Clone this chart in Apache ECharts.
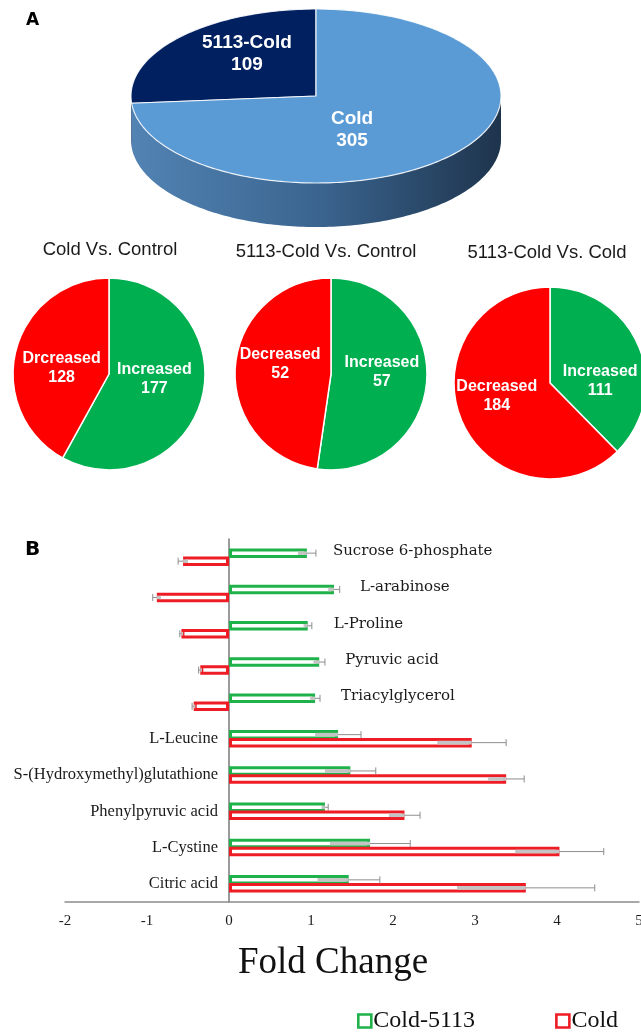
<!DOCTYPE html>
<html>
<head>
<meta charset="utf-8">
<title>Differential metabolites under cold stress</title>
<script src="https://cdn.jsdelivr.net/npm/echarts@6/dist/echarts.min.js"></script>
<style>
  html, body { margin: 0; padding: 0; background: #ffffff; }
  #chart { width: 641px; height: 1034px; }
</style>
</head>
<body>
<div id="chart"></div>
<script>
// ---- Panel A: overlap of differential metabolites ----
const overlapNames = ['5113-Cold', 'Cold'];
const overlapCounts = [109, 305];

// ---- Panel A: up / down regulated counts per comparison ----
const comparisonTitles = ['Cold Vs. Control', '5113-Cold Vs. Control', '5113-Cold Vs. Cold'];
const increasedNames = ['Increased', 'Increased', 'Increased'];
const increasedCounts = [177, 57, 111];
const decreasedNames = ['Drcreased', 'Decreased', 'Decreased'];
const decreasedCounts = [128, 52, 184];

// ---- Panel B: fold change of selected metabolites ----
const metabolites = [
  'Sucrose 6-phosphate', 'L-arabinose', 'L-Proline', 'Pyruvic acid', 'Triacylglycerol',
  'L-Leucine', 'S-(Hydroxymethyl)glutathione', 'Phenylpyruvic acid', 'L-Cystine', 'Citric acid'
];
const seriesNames = ['Cold-5113', 'Cold'];
const cold5113FC  = [0.95, 1.28, 0.96, 1.10, 1.05, 1.33, 1.48, 1.17, 1.72, 1.46];
const cold5113Err = [0.11, 0.07, 0.05, 0.07, 0.06, 0.28, 0.31, 0.04, 0.49, 0.38];
const coldFC      = [-0.56, -0.88, -0.58, -0.35, -0.43, 2.96, 3.38, 2.14, 4.03, 3.62];
const coldErr     = [0.06, 0.05, 0.02, 0.02, 0.02, 0.42, 0.22, 0.19, 0.54, 0.84];
const foldMin = -2, foldMax = 5, foldStep = 1;

// ---- colours ----
const RED = '#ff0000', GREEN = '#00b050';
const BAR_GREEN = '#1fb24b', BAR_RED = '#ee1c24';

const chart = echarts.init(document.getElementById('chart'), null, { renderer: 'canvas' });

// ---------- 3-D style overlap pie (ellipse with extruded rim) ----------
const topPie = { cx: 316, cy: 96, rx: 185, ry: 87, depth: 44 };
const topPieFill = ['#002060', '#5b9bd5'];
const topPieSide = ['#001a4d', null];
const topPieLabelNudge = [[-1, -13], [-32, 4]];

function arcPoints(a0, a1, dy) {
  const pts = [];
  const n = Math.max(2, Math.ceil(Math.abs(a1 - a0) / 0.02));
  for (let k = 0; k <= n; k++) {
    const a = a0 + (a1 - a0) * k / n;
    pts.push([topPie.cx + topPie.rx * Math.cos(a), topPie.cy + dy + topPie.ry * Math.sin(a)]);
  }
  return pts;
}

function renderTopPie(params, api) {
  const i = params.dataIndex;
  const total = overlapCounts.reduce((s, v) => s + v, 0);
  let before = 0;
  for (let j = 0; j < i; j++) before += overlapCounts[j];
  const value = api.value(0);
  // slices run counter-clockwise from 12 o'clock
  const aStart = -Math.PI / 2 - 2 * Math.PI * before / total;
  const aEnd = -Math.PI / 2 - 2 * Math.PI * (before + value) / total;
  const children = [];

  // visible front rim (screen-lower half of the ellipse)
  for (let k = -2; k <= 1; k++) {
    const lo = Math.max(aEnd, 2 * Math.PI * k);
    const hi = Math.min(aStart, 2 * Math.PI * k + Math.PI);
    if (hi > lo) {
      const upper = arcPoints(lo, hi, 0);
      const lower = arcPoints(hi, lo, topPie.depth);
      const fill = topPieSide[i] || new echarts.graphic.LinearGradient(0, 0, 1, 0, [
        { offset: 0, color: '#5283b3' },
        { offset: 0.5, color: '#3b6590' },
        { offset: 1, color: '#1e344d' }
      ]);
      children.push({
        type: 'polygon',
        shape: { points: upper.concat(lower) },
        style: { fill: fill, stroke: null }
      });
    }
  }

  // top face
  const face = [[topPie.cx, topPie.cy]].concat(arcPoints(aEnd, aStart, 0));
  children.push({
    type: 'polygon',
    shape: { points: face },
    style: { fill: topPieFill[i], stroke: 'rgba(255,255,255,0.85)', lineWidth: 1.2 }
  });

  // label at the middle of the slice
  const mid = (aStart + aEnd) / 2;
  const lx = topPie.cx + topPie.rx * 0.5 * Math.cos(mid) + topPieLabelNudge[i][0];
  const ly = topPie.cy + topPie.ry * 0.5 * Math.sin(mid) + topPieLabelNudge[i][1];
  children.push({
    type: 'text',
    x: lx, y: ly,
    style: {
      text: overlapNames[i] + '\n' + value,
      fill: '#ffffff',
      fontFamily: 'Liberation Sans',
      fontWeight: 'bold',
      fontSize: 19,
      lineHeight: 22,
      align: 'center',
      verticalAlign: 'middle'
    }
  });
  return { type: 'group', children: children };
}

// ---------- three comparison pies ----------
const smallPieCenters = [[109, 374], [331, 374], [550, 383]];
const smallPieTitleCenters = [[110, 250], [326, 252], [547, 253]];
const smallPieLabelNudge = [[[-4, -8], [2, 7]], [[0, -6], [0, -6]], [[3, 17], [-6, -6]]];

const smallPies = comparisonTitles.map((t, i) => ({
  type: 'pie',
  name: t,
  center: smallPieCenters[i],
  radius: [0, 96],
  startAngle: 90,
  clockwise: true,
  silent: true,
  animation: false,
  itemStyle: { borderColor: '#ffffff', borderWidth: 1.5 },
  label: {
    show: true,
    position: 'inside',
    formatter: '{b}\n{c}',
    color: '#ffffff',
    fontFamily: 'Liberation Sans',
    fontWeight: 'bold',
    fontSize: 16,
    lineHeight: 19
  },
  labelLine: { show: false },
  emphasis: { disabled: true },
  data: [
    { name: increasedNames[i], value: increasedCounts[i], itemStyle: { color: GREEN }, label: { offset: smallPieLabelNudge[i][0] } },
    { name: decreasedNames[i], value: decreasedCounts[i], itemStyle: { color: RED }, label: { offset: smallPieLabelNudge[i][1] } }
  ]
}));

// ---------- fold change bars ----------
const barHalf = 4; // half the spacing between the two bars of one metabolite

function makeErrorRenderer(offsetSign) {
  return function (params, api) {
    const v = api.value(0), idx = api.value(1), e = api.value(2);
    const s = v >= 0 ? 1 : -1;
    const end = api.coord([v, idx]);
    const inner = api.coord([v - s * e, idx]);
    const outer = api.coord([v + s * e, idx]);
    const y = end[1] + offsetSign * barHalf;
    const x0 = Math.min(inner[0], end[0]);
    return {
      type: 'group',
      children: [
        {
          type: 'rect',
          shape: { x: x0, y: y - 1.8, width: Math.abs(end[0] - inner[0]), height: 3.6 },
          style: { fill: '#c4c4c4', stroke: null }
        },
        {
          type: 'line',
          shape: { x1: end[0], y1: y, x2: outer[0], y2: y },
          style: { stroke: '#8e8e8e', lineWidth: 1 }
        },
        {
          type: 'line',
          shape: { x1: outer[0], y1: y - 3.5, x2: outer[0], y2: y + 3.5 },
          style: { stroke: '#8e8e8e', lineWidth: 1 }
        }
      ]
    };
  };
}

// metabolites raised in both treatments carry their name beside the zero line;
// the others carry it to the right of the Cold-5113 bar
const labelOnAxis = i => coldFC[i] > 0;

const barCommon = {
  type: 'bar',
  barWidth: 9.5,
  barGap: '-16%',
  silent: true
};

const option = {
  animation: false,
  backgroundColor: '#ffffff',
  grid: {
    left: 65, right: 2, top: 539, bottom: 132,
    containLabel: false,
    outerBoundsMode: 'none'
  },
  xAxis: {
    type: 'value',
    min: foldMin, max: foldMax, interval: foldStep,
    axisLine: { show: true, lineStyle: { color: '#8c8c8c', width: 1.5 } },
    axisTick: { show: false },
    splitLine: { show: false },
    axisLabel: {
      margin: 12,
      fontFamily: 'Liberation Serif',
      fontSize: 15,
      color: '#1a1a1a',
      showMaxLabel: true,
      showMinLabel: true
    }
  },
  yAxis: {
    type: 'category',
    inverse: true,
    data: metabolites,
    axisLine: { show: true, onZero: true, lineStyle: { color: '#7a7a7a', width: 1.5 } },
    axisTick: { show: false },
    splitLine: { show: false },
    axisLabel: { show: false }
  },
  legend: {
    left: 357,
    top: 1009,
    padding: 0,
    icon: 'rect',
    itemWidth: 13,
    itemHeight: 13,
    itemGap: 80,
    selectedMode: false,
    data: seriesNames,
    itemStyle: { borderWidth: 2.6 },
    textStyle: { fontFamily: 'Liberation Serif', fontSize: 24, color: '#111111', padding: [0, 0, 0, -3] }
  },
  graphic: [
    { type: 'text', x: 26, y: 21, style: { text: 'A', fontFamily: 'DejaVu Sans', fontWeight: 'bold', fontSize: 17, fill: '#000', align: 'left', verticalAlign: 'middle' } },
    { type: 'text', x: 25, y: 550, style: { text: 'B', fontFamily: 'DejaVu Sans', fontWeight: 'bold', fontSize: 20, fill: '#000', align: 'left', verticalAlign: 'middle' } },
    { type: 'text', x: 333, y: 963, style: { text: 'Fold Change', fontFamily: 'Liberation Serif', fontSize: 37, fill: '#111', align: 'center', verticalAlign: 'middle' } }
  ].concat(comparisonTitles.map((t, i) => ({
    type: 'text',
    x: smallPieTitleCenters[i][0],
    y: smallPieTitleCenters[i][1],
    style: { text: t, fontFamily: 'Liberation Sans', fontSize: 18.5, fill: '#1a1a1a', align: 'center', verticalAlign: 'middle' }
  }))),
  series: [
    {
      type: 'custom',
      name: 'overlap',
      coordinateSystem: 'none',
      silent: true,
      renderItem: renderTopPie,
      data: overlapCounts.map(v => [v])
    }
  ].concat(smallPies).concat([
    Object.assign({}, barCommon, {
      name: seriesNames[0],
      itemStyle: { color: '#ffffff', borderColor: BAR_GREEN, borderWidth: 3 },
      data: cold5113FC.map((v, i) => ({
        value: v,
        label: labelOnAxis(i) ? {
          show: true,
          position: 'left',
          distance: 11,
          offset: [0, barHalf],
          formatter: metabolites[i],
          fontFamily: 'Liberation Serif',
          fontSize: 16.5,
          color: '#1a1a1a'
        } : {
          show: true,
          position: 'right',
          distance: 26,
          offset: [0, -2],
          formatter: metabolites[i],
          fontFamily: 'DejaVu Serif',
          fontSize: 15,
          color: '#1a1a1a'
        }
      }))
    }),
    Object.assign({}, barCommon, {
      name: seriesNames[1],
      itemStyle: { color: '#ffffff', borderColor: BAR_RED, borderWidth: 3 },
      data: coldFC
    }),
    {
      type: 'custom',
      name: 'err-cold5113',
      silent: true,
      z: 3,
      renderItem: makeErrorRenderer(-1),
      encode: { x: 0, y: 1 },
      data: cold5113FC.map((v, i) => [v, i, cold5113Err[i]])
    },
    {
      type: 'custom',
      name: 'err-cold',
      silent: true,
      z: 3,
      renderItem: makeErrorRenderer(1),
      encode: { x: 0, y: 1 },
      data: coldFC.map((v, i) => [v, i, coldErr[i]])
    }
  ])
};

chart.setOption(option);
</script>
</body>
</html>
